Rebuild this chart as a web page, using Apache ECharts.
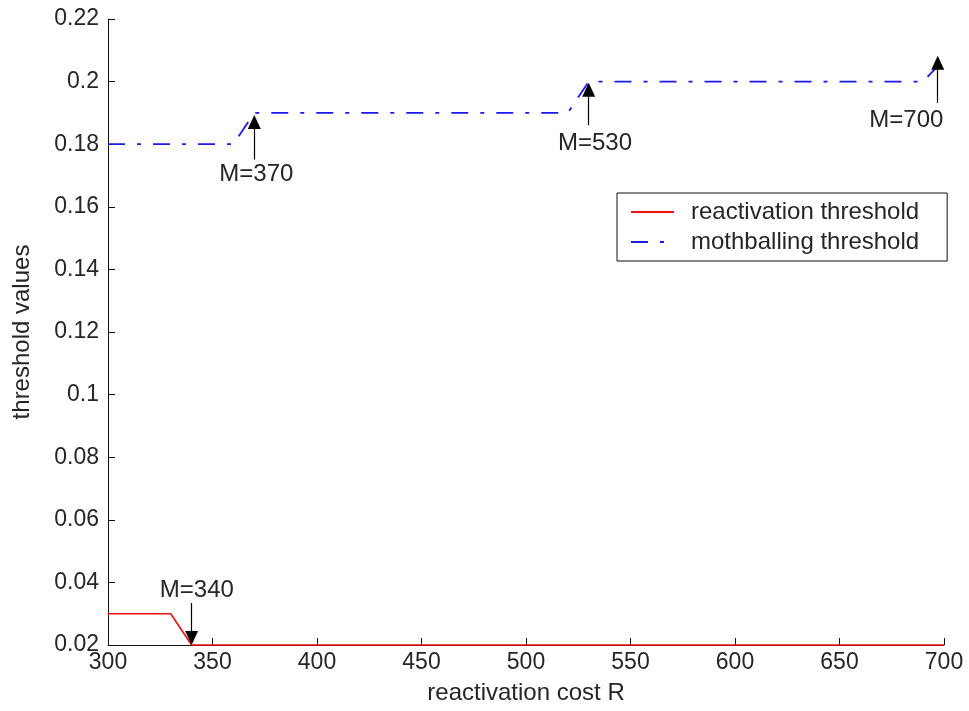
<!DOCTYPE html>
<html><head><meta charset="utf-8">
<script src="https://cdn.jsdelivr.net/npm/echarts@6/dist/echarts.min.js"></script>
<style>html,body{margin:0;padding:0;background:#fff}#c{width:969px;height:711px}</style>
</head><body><div id="c"></div>
<script>
const costR = [300,310,320,330,340,350,360,370,380,390,400,410,420,430,440,450,460,470,480,490,500,510,520,530,540,550,560,570,580,590,600,610,620,630,640,650,660,670,680,690,700];
const reactivation = [0.03,0.03,0.03,0.03,0.02,0.02,0.02,0.02,0.02,0.02,0.02,0.02,0.02,0.02,0.02,0.02,0.02,0.02,0.02,0.02,0.02,0.02,0.02,0.02,0.02,0.02,0.02,0.02,0.02,0.02,0.02,0.02,0.02,0.02,0.02,0.02,0.02,0.02,0.02,0.02,0.02];
const mothballing = [0.18,0.18,0.18,0.18,0.18,0.18,0.18,0.19,0.19,0.19,0.19,0.19,0.19,0.19,0.19,0.19,0.19,0.19,0.19,0.19,0.19,0.19,0.19,0.2,0.2,0.2,0.2,0.2,0.2,0.2,0.2,0.2,0.2,0.2,0.2,0.2,0.2,0.2,0.2,0.2,0.207];
const annoX = [340,370,530,697];
const annoTail = [0.0334,0.1751,0.1861,0.1932];
const annoHead = [0.0222,0.1871,0.1974,0.206];
const annoText = ['M=340','M=370','M=530','M=700'];
const annoTextX = [342.5,371,533,682];
const annoTextY = [0.0376,0.1702,0.1804,0.1877];
const xTicks = [300,350,400,450,500,550,600,650,700];
const yTicks = [0.02,0.04,0.06,0.08,0.1,0.12,0.14,0.16,0.18,0.2,0.22];

const FONT = '"Liberation Sans", Arial, sans-serif';
const TXT = '#262626';
const chart = echarts.init(document.getElementById('c'));
const arrows = annoX.map((x,i)=>[{coord:[x,annoTail[i]]},{coord:[x,annoHead[i]]}]);
const labels = annoX.map((x,i)=>({value:[annoTextX[i],annoTextY[i]], name:annoText[i]}));
chart.setOption({
  animation:false,
  backgroundColor:'#fff',
  grid:{left:108,right:25,top:19,bottom:66,containLabel:false},
  xAxis:{type:'value',min:xTicks[0],max:xTicks[xTicks.length-1],interval:xTicks[1]-xTicks[0],
    name:'reactivation cost R',nameLocation:'middle',nameGap:36,
    nameTextStyle:{fontFamily:FONT,fontSize:24,color:TXT},
    axisLine:{show:true,lineStyle:{color:'#111',width:1}},
    axisTick:{show:true,inside:true,length:7,lineStyle:{color:'#111'}},
    axisLabel:{fontFamily:FONT,fontSize:23,color:TXT,margin:6},
    splitLine:{show:false}},
  yAxis:{type:'value',min:yTicks[0],max:yTicks[yTicks.length-1],interval:0.02,
    name:'threshold values',nameLocation:'middle',nameGap:74,nameRotate:90,
    nameTextStyle:{fontFamily:FONT,fontSize:24,color:TXT},
    axisLine:{show:true,lineStyle:{color:'#111',width:1}},
    axisTick:{show:true,inside:true,length:7,lineStyle:{color:'#111'}},
    axisLabel:{fontFamily:FONT,fontSize:23,color:TXT,margin:9,
      formatter:v=>String(parseFloat(v.toFixed(2)))},
    splitLine:{show:false}},
  legend:{orient:'vertical',left:617,top:193,
    data:['reactivation threshold','mothballing threshold'],
    backgroundColor:'#fff',borderColor:'#111',borderWidth:1,
    padding:[7,28,7,13],itemGap:6,itemWidth:43,itemHeight:14,
    itemStyle:{opacity:0},
    textStyle:{fontFamily:FONT,fontSize:24,color:TXT,padding:[0,0,0,12]}},
  series:[
    {name:'reactivation threshold',type:'line',data:costR.map((x,i)=>[x,reactivation[i]]),
      showSymbol:false,symbol:'none',lineStyle:{color:'#f01010',width:1.6},itemStyle:{color:'#f01010'},
      clip:false,silent:true},
    {name:'mothballing threshold',type:'line',data:costR.map((x,i)=>[x,mothballing[i]]),
      showSymbol:false,symbol:'none',lineStyle:{color:'#1a1aee',width:1.8,type:[17,12,4,12]},itemStyle:{color:'#1a1aee'},
      silent:true,
      markLine:{silent:true,symbol:['none','triangle'],symbolSize:[13,14],
        label:{show:false},lineStyle:{color:'#000',width:1.2,type:'solid'},
        emphasis:{disabled:true},data:arrows}},
    {name:'labels',type:'scatter',data:labels,symbolSize:0,silent:true,
      itemStyle:{opacity:1},
      label:{show:true,position:'inside',formatter:p=>p.name,fontFamily:FONT,fontSize:24,color:TXT,opacity:1}}
  ]
});
</script></body></html>
